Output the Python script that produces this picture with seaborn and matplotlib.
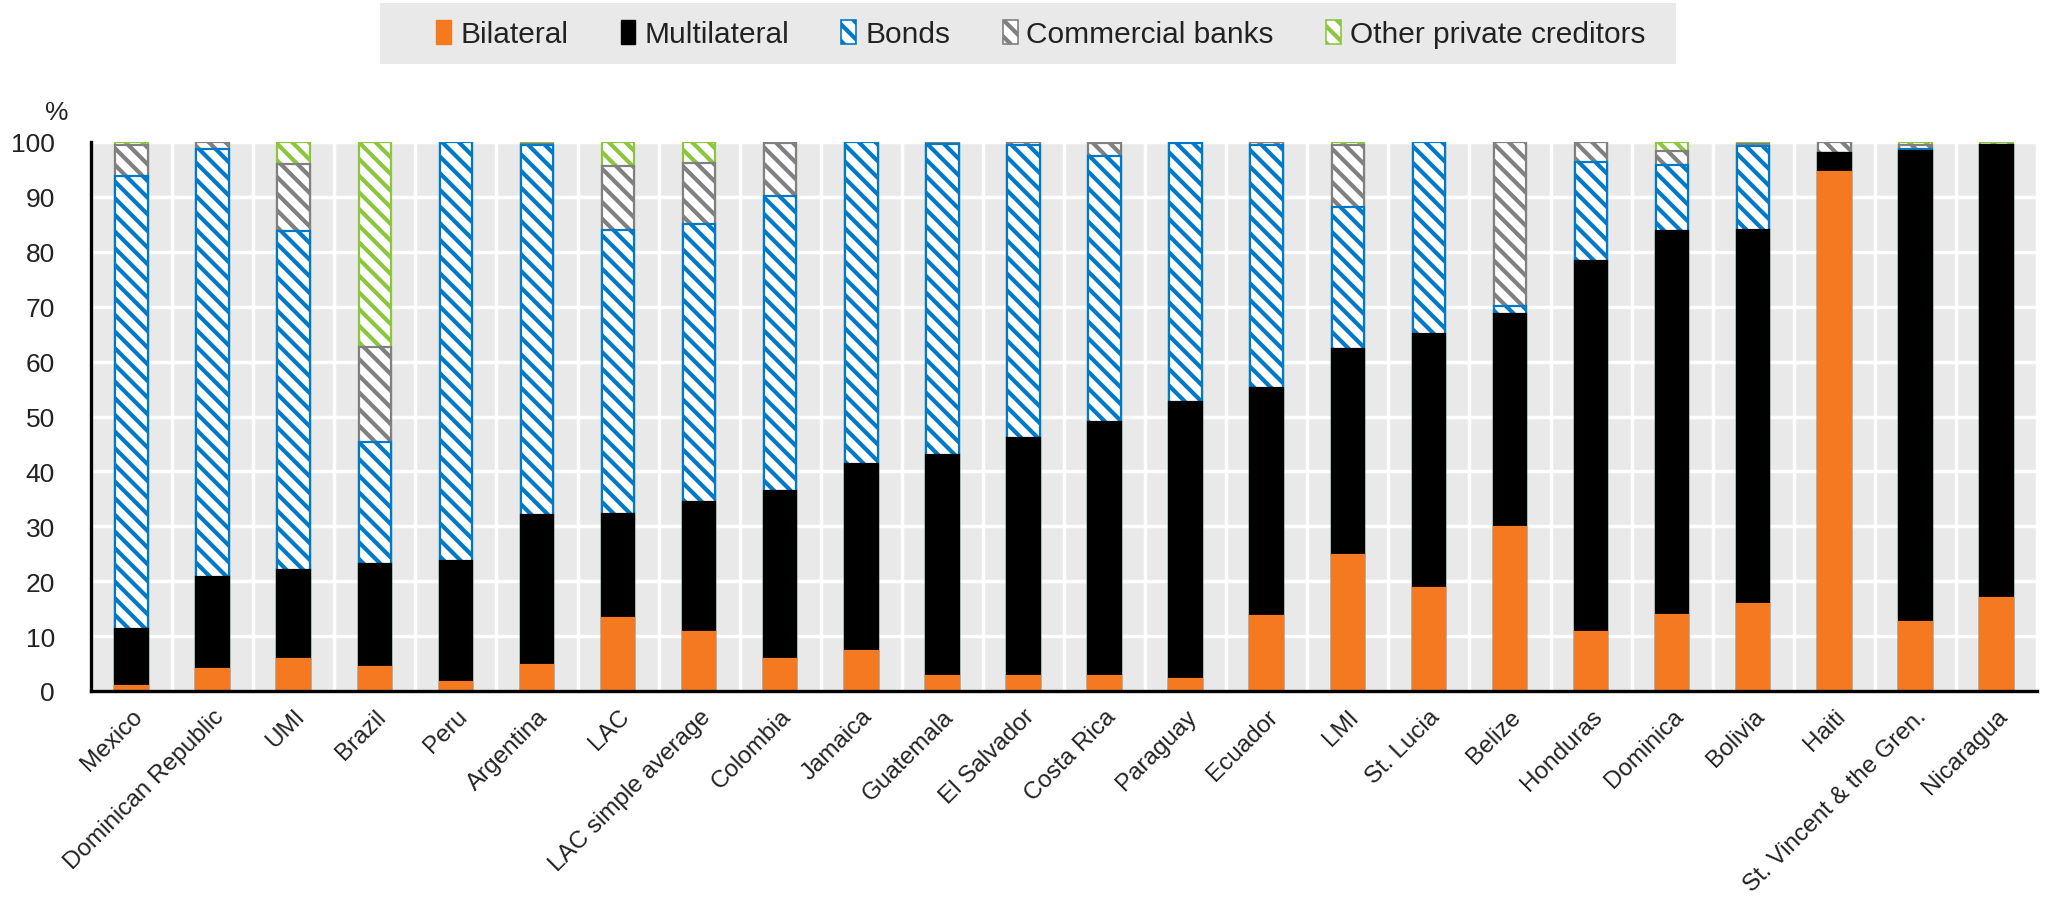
import numpy as np
import pandas as pd
import matplotlib
matplotlib.use("Agg")
import matplotlib.pyplot as plt
from matplotlib.patches import Patch, Rectangle
import seaborn as sns

# Composition of external public debt by creditor type (% of total)
countries = [
    "Mexico", "Dominican Republic", "UMI", "Brazil", "Peru", "Argentina", "LAC",
    "LAC simple average", "Colombia", "Jamaica", "Guatemala", "El Salvador",
    "Costa Rica", "Paraguay", "Ecuador", "LMI", "St. Lucia", "Belize", "Honduras",
    "Dominica", "Bolivia", "Haiti", "St. Vincent & the Gren.", "Nicaragua",
]
bilateral = [1.0, 4.0, 5.8, 4.4, 1.7, 4.8, 13.3, 10.8, 5.8, 7.2, 2.8, 2.8,
             2.8, 2.1, 13.6, 24.8, 18.7, 29.9, 10.8, 13.9, 15.9, 94.6, 12.5, 17.0]
multilateral = [10.3, 16.7, 16.3, 18.8, 21.9, 27.2, 19.0, 23.6, 30.6, 34.1, 40.2, 43.2,
                46.2, 50.5, 41.6, 37.5, 46.3, 38.8, 67.5, 69.8, 68.1, 3.4, 85.9, 82.4]
bonds = [82.5, 78.0, 61.6, 22.1, 76.4, 67.5, 51.7, 50.7, 53.8, 58.7, 56.6, 53.4,
         48.5, 47.2, 44.2, 25.9, 35.0, 1.4, 18.1, 12.1, 15.2, 0.0, 0.4, 0.0]
commercial_banks = [5.6, 1.3, 12.3, 17.4, 0.0, 0.2, 11.7, 11.0, 9.6, 0.0, 0.4, 0.6,
                    2.3, 0.2, 0.6, 11.2, 0.0, 29.9, 3.6, 2.6, 0.5, 2.0, 0.6, 0.0]
other_private = [0.6, 0.0, 4.0, 37.3, 0.0, 0.3, 4.3, 3.9, 0.2, 0.0, 0.0, 0.0,
                 0.2, 0.0, 0.0, 0.6, 0.0, 0.0, 0.0, 1.6, 0.3, 0.0, 0.6, 0.6]

series_names = ["Bilateral", "Multilateral", "Bonds", "Commercial banks",
                "Other private creditors"]
series_values = [bilateral, multilateral, bonds, commercial_banks, other_private]
series_colors = ["#F47920", "#000000", "#0079C8", "#808080", "#8CC63F"]
series_hatched = [False, False, True, True, True]
HATCH = "\\\\"
HATCH_LW = 3.0

sns.set_theme(style="white")
plt.rcParams["font.family"] = ["Liberation Sans", "DejaVu Sans"]
plt.rcParams["hatch.linewidth"] = HATCH_LW


def style_hatched(p, color):
    p.set_facecolor("white")
    p.set_edgecolor(color)
    p.set_hatch(HATCH)
    if hasattr(p, "set_hatch_linewidth"):
        p.set_hatch_linewidth(HATCH_LW)
    else:
        p._hatch_linewidth = HATCH_LW


df = pd.DataFrame({"country": countries})
for name, vals in zip(series_names, series_values):
    df[name] = vals
cum = df[series_names].cumsum(axis=1)

fig = plt.figure(figsize=(20.49, 9.04), dpi=100)
ax = fig.add_axes([91 / 2049, 1 - 692 / 904, (2037 - 91) / 2049, (692 - 143) / 904])
ax.set_facecolor("#E9E9E9")

bar_w = 0.4
# Draw cumulative totals from the top layer downwards so each layer covers the ones above it
for i in range(len(series_names) - 1, -1, -1):
    name = series_names[i]
    color = series_colors[i]
    sns.barplot(data=pd.DataFrame({"country": countries, "top": cum[name].values}),
                x="country", y="top", order=countries, color=color,
                width=bar_w, ax=ax, saturation=1, errorbar=None)
    bars = ax.containers[-1]
    for p in bars:
        if series_hatched[i]:
            style_hatched(p, color)
        else:
            p.set_facecolor(color)
            p.set_edgecolor(color)
        p.set_linewidth(1.6)

ax.set_xlim(-0.5, len(countries) - 0.5)
ax.set_ylim(0, 100)
ax.set_yticks(np.arange(0, 101, 10))
ax.set_xticks(np.arange(len(countries)))
ax.set_xticks(np.arange(len(countries) + 1) - 0.5, minor=True)
ax.set_xticklabels(countries, rotation=45, ha="right", rotation_mode="anchor",
                   fontsize=17.5, color="#222222")
ax.tick_params(axis="x", which="major", length=0, pad=10)
ax.tick_params(axis="x", which="minor", direction="in", length=8, width=2.2,
               color="black")
ax.tick_params(axis="y", direction="in", length=8, width=2.2, color="black",
               labelsize=19, labelcolor="#222222", pad=26)
ax.set_xlabel("")
ax.set_ylabel("")

ax.set_axisbelow(True)
ax.grid(axis="y", which="major", color="white", linewidth=2.5)
ax.grid(axis="x", which="minor", color="white", linewidth=2.5)
ax.grid(axis="x", which="major", visible=False)

for side in ["top", "right"]:
    ax.spines[side].set_visible(False)
for side in ["left", "bottom"]:
    ax.spines[side].set_color("black")
    ax.spines[side].set_linewidth(2.4)

fig.text(57 / 2049, 1 - 113 / 904, "%", ha="center", va="center",
         fontsize=19, color="#222222")

# Legend band
fig.patches.append(Rectangle((380 / 2049, 1 - 65 / 904), (1676 - 380) / 2049, 61 / 904,
                             transform=fig.transFigure, facecolor="#E9E9E9",
                             edgecolor="none", zorder=0))

handles = []
for name, color, hatched in zip(series_names, series_colors, series_hatched):
    if hatched:
        h = Patch(label=name, linewidth=1.2)
        style_hatched(h, color)
        handles.append(h)
    else:
        handles.append(Patch(facecolor=color, edgecolor=color, label=name))

leg = fig.legend(handles=handles, loc="center", bbox_to_anchor=(1041 / 2049, 1 - 35 / 904),
                 ncol=5, frameon=False, fontsize=21.5, handlelength=0.5,
                 handleheight=0.9, handletextpad=0.3, columnspacing=1.75,
                 borderpad=0.0, borderaxespad=0.0)
for t in leg.get_texts():
    t.set_color("#222222")

fig.savefig("out.png", dpi=100)
